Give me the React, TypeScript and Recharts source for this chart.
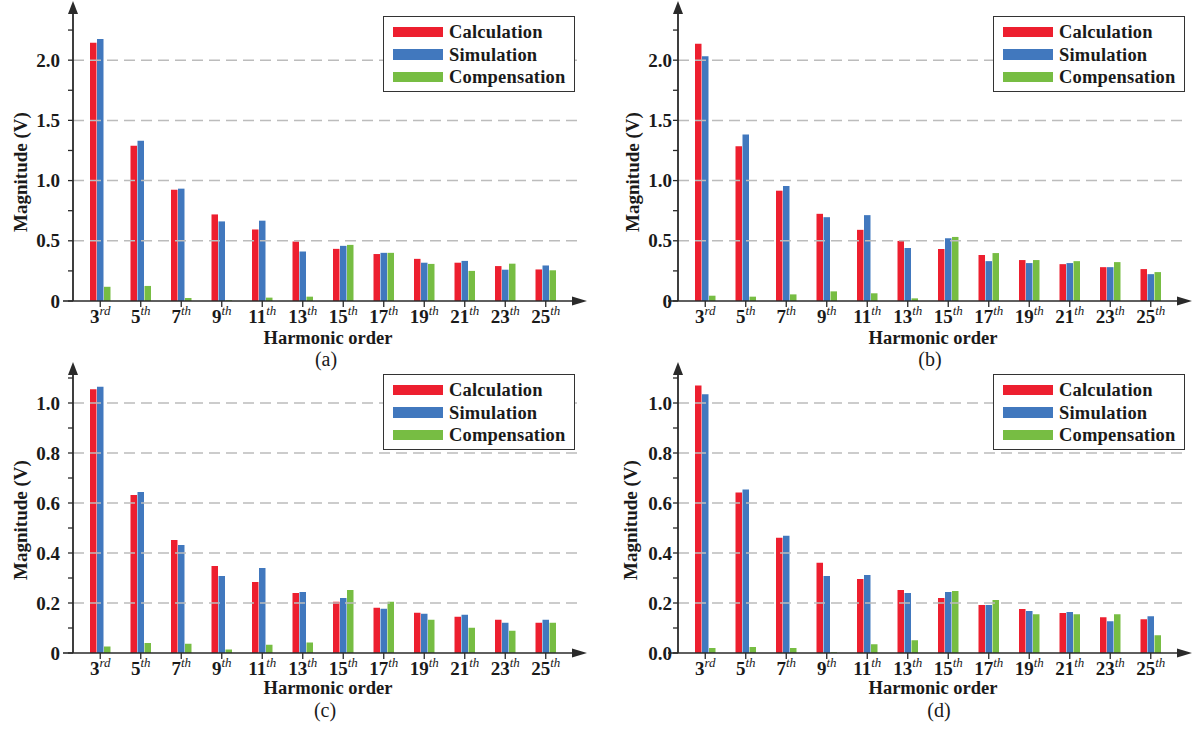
import React from 'react';
import { BarChart, Bar, XAxis, YAxis, ReferenceLine, Legend } from 'recharts';

// Harmonic orders on the x axis
const HARMONICS = ['3rd', '5th', '7th', '9th', '11th', '13th', '15th', '17th', '19th', '21st', '23rd', '25th'];
const HARMONIC_LABELS = ['3rd', '5th', '7th', '9th', '11th', '13th', '15th', '17th', '19th', '21th', '23th', '25th'];

// (a)
const calcA = [2.145, 1.29, 0.924, 0.719, 0.594, 0.494, 0.433, 0.39, 0.35, 0.318, 0.29, 0.262];
const simA = [2.176, 1.331, 0.933, 0.661, 0.667, 0.411, 0.458, 0.4, 0.318, 0.333, 0.26, 0.295];
const compA = [0.118, 0.125, 0.025, 0.006, 0.028, 0.036, 0.466, 0.4, 0.308, 0.25, 0.31, 0.255];

// (b)
const calcB = [2.136, 1.286, 0.916, 0.724, 0.591, 0.499, 0.432, 0.382, 0.34, 0.306, 0.281, 0.265];
const simB = [2.033, 1.383, 0.955, 0.696, 0.713, 0.44, 0.521, 0.331, 0.315, 0.315, 0.281, 0.223];
const compB = [0.044, 0.036, 0.055, 0.08, 0.064, 0.022, 0.532, 0.398, 0.34, 0.331, 0.323, 0.24];

// (c)
const calcC = [1.055, 0.632, 0.452, 0.348, 0.284, 0.24, 0.205, 0.181, 0.161, 0.145, 0.133, 0.121];
const simC = [1.065, 0.644, 0.432, 0.308, 0.34, 0.244, 0.22, 0.177, 0.157, 0.153, 0.121, 0.133];
const compC = [0.026, 0.04, 0.037, 0.014, 0.033, 0.042, 0.252, 0.205, 0.133, 0.101, 0.089, 0.121];

// (d)
const calcD = [1.07, 0.642, 0.461, 0.361, 0.296, 0.252, 0.22, 0.192, 0.176, 0.16, 0.143, 0.135];
const simD = [1.035, 0.654, 0.469, 0.308, 0.312, 0.24, 0.244, 0.192, 0.168, 0.164, 0.127, 0.147];
const compD = [0.02, 0.024, 0.02, 0.003, 0.035, 0.051, 0.248, 0.212, 0.155, 0.155, 0.155, 0.071];

// y ticks (every tick gets a tick mark, majors get a label + dashed grid line)
const TICKS_V2 = [0, 0.25, 0.5, 0.75, 1.0, 1.25, 1.5, 1.75, 2.0, 2.25];
const MAJORS_V2 = [0, 0.5, 1.0, 1.5, 2.0];
const LABELS_V2 = ['0', '0.5', '1.0', '1.5', '2.0'];

const TICKS_V1 = [0, 0.1, 0.2, 0.3, 0.4, 0.5, 0.6, 0.7, 0.8, 0.9, 1.0, 1.1];
const MAJORS_V1 = [0, 0.2, 0.4, 0.6, 0.8, 1.0];
const LABELS_C = ['0', '0.2', '0.4', '0.6', '0.8', '1.0'];
const LABELS_D = ['0.0', '0.2', '0.4', '0.6', '0.8', '1.0'];

const SERIES = ['Calculation', 'Simulation', 'Compensation'];

const FONT = '"Liberation Serif", "Times New Roman", serif';
const RED = '#ED1F2F';
const BLUE = '#4178BE';
const GREEN = '#77BD43';
const COLORS = [RED, BLUE, GREEN];
const AXIS = '#2a2a2a';
const GRID = '#bcbcbc';

const W = 600;
const PLOT_LEFT = 73;
const PLOT_RIGHT = 578;
const ARROW_TIP = 587;

interface PanelCfg {
  left: number;
  top: number;
  height: number;
  marginTop: number;
  xAxisHeight: number;
  yMax: number;
  ticks: number[];
  majors: number[];
  labels: string[];
  tickMargin: number;
  calc: number[];
  sim: number[];
  comp: number[];
  caption: string;
  captionX: number;
  titleX: number;
  titleY: number;
  xTitleDy: number;
  captionDy: number;
  legendLeft: number;
  legendTop: number;
}

const HarmonicTick = ({ x, y, payload, index }: any) => {
  const label = HARMONIC_LABELS[index] ?? String(payload.value);
  const m = label.match(/^(\d+)(\D+)$/);
  const num = m ? m[1] : label;
  const suf = m ? m[2] : '';
  return (
    <text x={x} y={y} dy={14} textAnchor="middle" fontFamily={FONT} fill="#1a1a1a">
      <tspan fontSize={19} fontWeight="bold">{num}</tspan>
      <tspan fontSize={13} fontStyle="italic" dy={-8.5}>{suf}</tspan>
    </text>
  );
};

const makeValueTick = (majors: number[], labels: string[]) => ({ x, y, payload }: any) => {
  const i = majors.findIndex((v) => Math.abs(v - payload.value) < 1e-6);
  if (i < 0) return <g />;
  return (
    <text x={x} y={y} dy="0.35em" textAnchor="end" fontFamily={FONT} fontSize={19} fontWeight="bold" fill="#1a1a1a">
      {labels[i]}
    </text>
  );
};

const LegendBox = ({ payload }: any) => {
  // keep the series order of the figure, colours come from the bars
  const items = SERIES.map((s, i) => {
    const p = (payload || []).find((e: any) => e.value === s || e.dataKey === s);
    return { name: s, color: p ? p.color : COLORS[i] };
  });
  return (
    <div
      style={{
        position: 'relative',
        width: 192,
        height: 76,
        boxSizing: 'border-box',
        border: '1.5px solid #333',
        background: '#fff',
        fontFamily: FONT,
      }}
    >
      {items.map((it, i) => (
        <div key={it.name} style={{ position: 'absolute', left: 9, top: 8 + i * 22.6, height: 14, display: 'flex', alignItems: 'center' }}>
          <div style={{ width: 50, height: 10.5, background: it.color }} />
          <span style={{ marginLeft: 6, fontSize: 18.5, fontWeight: 'bold', color: '#1a1a1a', letterSpacing: 0.2, lineHeight: '14px' }}>
            {it.name}
          </span>
        </div>
      ))}
    </div>
  );
};

function Panel({ cfg }: { cfg: PanelCfg }) {
  const data = HARMONICS.map((h, i) => ({
    name: h,
    Calculation: cfg.calc[i],
    Simulation: cfg.sim[i],
    Compensation: cfg.comp[i],
  }));
  const plotTop = cfg.marginTop;
  const plotBottom = cfg.height - cfg.xAxisHeight;
  const ValueTick = makeValueTick(cfg.majors, cfg.labels);

  return (
    <div style={{ position: 'absolute', left: cfg.left, top: cfg.top, width: W, height: cfg.height }}>
      <BarChart
        width={W}
        height={cfg.height}
        data={data}
        margin={{ top: cfg.marginTop, right: W - PLOT_RIGHT, bottom: 0, left: 0 }}
        barSize={6.5}
        barGap={0.5}
      >
        {cfg.majors
          .filter((v) => v > 0)
          .map((v) => (
            <ReferenceLine key={v} y={v} stroke={GRID} strokeWidth={1.5} strokeDasharray="11 6" />
          ))}
        <XAxis
          dataKey="name"
          height={cfg.xAxisHeight}
          padding={{ left: 7, right: 12 }}
          interval={0}
          tickSize={6}
          axisLine={{ stroke: AXIS, strokeWidth: 1.6 }}
          tickLine={{ stroke: AXIS, strokeWidth: 1.3 }}
          tick={<HarmonicTick />}
        />
        <YAxis
          type="number"
          width={PLOT_LEFT}
          domain={[0, cfg.yMax]}
          ticks={cfg.ticks}
          interval={0}
          allowDataOverflow
          tickSize={5}
          tickMargin={cfg.tickMargin}
          axisLine={{ stroke: AXIS, strokeWidth: 1.8 }}
          tickLine={{ stroke: AXIS, strokeWidth: 1.3 }}
          tick={<ValueTick />}
        />
        <Legend
          layout="vertical"
          align="center"
          verticalAlign="middle"
          content={<LegendBox />}
          wrapperStyle={{ left: cfg.legendLeft, top: cfg.legendTop, width: 192, height: 76 }}
        />
        {SERIES.map((s, i) => (
          <Bar key={s} dataKey={s} fill={COLORS[i]} isAnimationActive={false} />
        ))}
      </BarChart>
      <svg
        width={W}
        height={cfg.height}
        style={{ position: 'absolute', left: 0, top: 0, pointerEvents: 'none', overflow: 'visible' }}
      >
        {/* y arrow */}
        <polygon
          points={`${PLOT_LEFT - 5},${plotTop + 2} ${PLOT_LEFT},${plotTop - 11} ${PLOT_LEFT + 5},${plotTop + 2}`}
          fill={AXIS}
        />
        {/* x axis extension and arrow */}
        <line x1={PLOT_RIGHT} y1={plotBottom} x2={ARROW_TIP - 8} y2={plotBottom} stroke={AXIS} strokeWidth={1.6} />
        <polygon
          points={`${ARROW_TIP - 15},${plotBottom - 4.5} ${ARROW_TIP},${plotBottom} ${ARROW_TIP - 15},${plotBottom + 4.5}`}
          fill={AXIS}
        />
        {/* baseline stub left of axis */}
        <line x1={PLOT_LEFT - 10} y1={plotBottom} x2={PLOT_LEFT} y2={plotBottom} stroke={AXIS} strokeWidth={1.6} />
        {/* y title */}
        <text
          x={cfg.titleX}
          y={cfg.titleY}
          transform={`rotate(-90 ${cfg.titleX} ${cfg.titleY})`}
          textAnchor="middle"
          dy="0.35em"
          fontFamily={FONT}
          fontSize={19}
          fontWeight="bold"
          fill="#1a1a1a"
        >
          Magnitude (V)
        </text>
        {/* x title */}
        <text x={328} y={plotBottom + cfg.xTitleDy} textAnchor="middle" fontFamily={FONT} fontSize={18.5} fontWeight="bold" fill="#1a1a1a">
          Harmonic order
        </text>
        {/* caption */}
        <text x={cfg.captionX} y={plotBottom + cfg.captionDy} textAnchor="middle" fontFamily={FONT} fontSize={20} fill="#1a1a1a">
          {cfg.caption}
        </text>
      </svg>
    </div>
  );
}

const TOP = { top: 0, height: 370, marginTop: 12, xAxisHeight: 69, yMax: 2.4, ticks: TICKS_V2, majors: MAJORS_V2, labels: LABELS_V2, titleY: 172, xTitleDy: 43, captionDy: 65, legendTop: 16 };
const BOTTOM = { top: 360, height: 374, marginTop: 13, xAxisHeight: 81, yMax: 1.12, ticks: TICKS_V1, majors: MAJORS_V1, titleY: 160, xTitleDy: 41, captionDy: 64, legendTop: 14 };

const PANELS: PanelCfg[] = [
  { ...TOP, left: 0, tickMargin: 8, calc: calcA, sim: simA, comp: compA, caption: '(a)', captionX: 326, titleX: 20.5, legendLeft: 383 },
  { ...TOP, left: 605, tickMargin: 1, calc: calcB, sim: simB, comp: compB, caption: '(b)', captionX: 325, titleX: 27.5, legendLeft: 388 },
  { ...BOTTOM, labels: LABELS_C, left: 0, tickMargin: 8, calc: calcC, sim: simC, comp: compC, caption: '(c)', captionX: 325, titleX: 20.5, legendLeft: 383 },
  { ...BOTTOM, labels: LABELS_D, left: 605, tickMargin: 1, calc: calcD, sim: simD, comp: compD, caption: '(d)', captionX: 334, titleX: 25.5, legendLeft: 388 },
];

export default function App() {
  return (
    <div style={{ position: 'absolute', left: 0, top: 0, width: 1202, height: 734, background: '#fff', overflow: 'hidden' }}>
      {PANELS.map((p) => (
        <Panel key={p.caption} cfg={p} />
      ))}
    </div>
  );
}
